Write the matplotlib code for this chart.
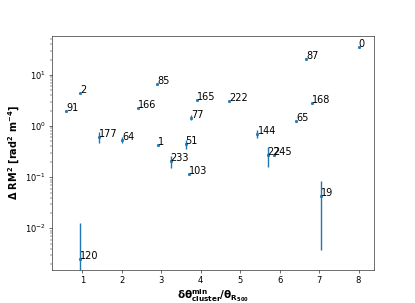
import numpy as np
import matplotlib
matplotlib.use("Agg")
import matplotlib.pyplot as plt

# cluster separation / R500 and delta RM^2 with errors
labels = ["0", "87", "168", "65", "144", "222", "165", "77", "85", "166",
          "2", "91", "177", "64", "1", "51", "233", "103", "120", "22",
          "245", "19"]
sep = np.array([8.00, 6.67, 6.82, 6.42, 5.44, 4.72, 3.90, 3.75, 2.90, 2.42,
                0.95, 0.59, 1.42, 2.01, 2.92, 3.62, 3.24, 3.71, 0.95, 5.70,
                5.85, 7.06])
drm2 = np.array([34.7, 21.0, 2.8, 1.24, 0.71, 3.1, 3.3, 1.46, 6.6, 2.25,
                 4.4, 2.0, 0.61, 0.54, 0.43, 0.45, 0.206, 0.117, 0.0025, 0.275,
                 0.27, 0.0438])
drm2_err = np.array([0.5, 0.3, 0.05, 0.03, 0.12, 0.05, 0.05, 0.17, 0.1, 0.03,
                     0.05, 0.03, 0.15, 0.07, 0.02, 0.09, 0.055, 0.004, 0.0103, 0.12,
                     0.01, 0.04])

fig = plt.figure(figsize=(8.3, 6.06), dpi=50)
ax = fig.add_subplot(111)
ax.errorbar(sep, drm2, yerr=drm2_err, fmt='.', color='C0', elinewidth=2, markersize=7)
for x, y, t in zip(sep, drm2, labels):
    ax.text(x, y, t, fontsize=14)

ax.set_yscale('log')
ax.set_xlim(0.23, 8.38)
ax.set_ylim(0.00155, 57)
ax.tick_params(labelsize=12, length=5)
ax.tick_params(which='minor', length=3)
ax.set_xlabel(r"$\mathbf{\delta\theta^{min}_{cluster}/\theta_{R_{500}}}$", fontsize=15)
ax.set_ylabel(r"$\mathbf{\Delta}$ RM$^\mathbf{2}$ [rad$^\mathbf{2}$ m$^\mathbf{-4}$]",
              fontsize=14, fontweight='bold')

fig.savefig("out.png", dpi=50)
